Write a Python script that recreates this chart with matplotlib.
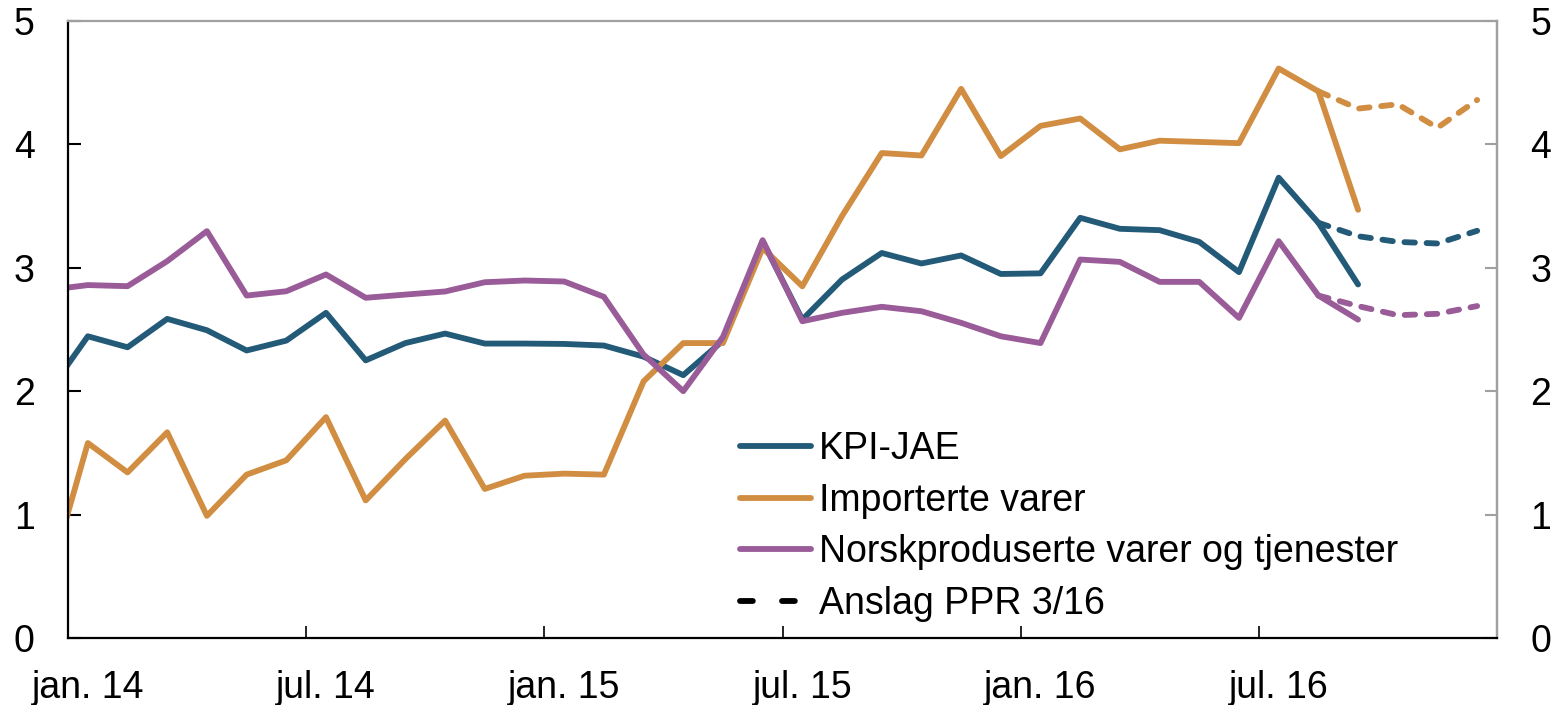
import numpy as np
import pandas as pd
import matplotlib
matplotlib.use("Agg")
import matplotlib.pyplot as plt
from matplotlib.lines import Line2D

plt.rcParams['font.family'] = ['Liberation Sans', 'DejaVu Sans']

# ---- data -------------------------------------------------------------
months = pd.period_range('2013-12', '2016-09', freq='M')
kpi_jae = [1.99, 2.445, 2.356, 2.586, 2.494, 2.33, 2.41, 2.635, 2.25, 2.39,
           2.467, 2.386, 2.386, 2.383, 2.37, 2.28, 2.13, 2.41, 3.215, 2.58,
           2.905, 3.12, 3.035, 3.10, 2.95, 2.955, 3.405, 3.316, 3.305, 3.21,
           2.965, 3.73, 3.365, 2.865]
importerte = [0.45, 1.58, 1.342, 1.667, 0.99, 1.324, 1.44, 1.79, 1.115, 1.45,
              1.762, 1.208, 1.315, 1.332, 1.324, 2.08, 2.39, 2.39, 3.16, 2.85,
              3.42, 3.93, 3.91, 4.45, 3.905, 4.15, 4.21, 3.96, 4.03, 4.02,
              4.01, 4.615, 4.43, 3.47]
norsk = [2.82, 2.86, 2.851, 3.054, 3.297, 2.775, 2.81, 2.946, 2.757, 2.783,
         2.808, 2.883, 2.897, 2.889, 2.765, 2.297, 2.0, 2.44, 3.224, 2.567,
         2.635, 2.684, 2.648, 2.554, 2.445, 2.39, 3.067, 3.048, 2.886, 2.886,
         2.594, 3.216, 2.775, 2.58]

fc_months = pd.period_range('2016-08', '2016-12', freq='M')
kpi_jae_fc = [3.365, 3.256, 3.21, 3.197, 3.30]
importerte_fc = [4.43, 4.29, 4.325, 4.135, 4.36]
norsk_fc = [2.775, 2.69, 2.616, 2.627, 2.69]

tick_labels = ['jan. 14', 'jul. 14', 'jan. 15', 'jul. 15', 'jan. 16', 'jul. 16']
legend_labels = ['KPI-JAE', 'Importerte varer',
                 'Norskproduserte varer og tjenester', 'Anslag PPR 3/16']

# ---- styling ----------------------------------------------------------
c_blue = '#225a78'
c_orange = '#d18e42'
c_purple = '#995c98'
gray = '#a0a0a0'
lw = 4.2
fs = 27

start = pd.Period('2014-01', freq='M')
def xpos(per):
    return np.array([(p - start).n for p in per]) + 0.5

x = xpos(months)
xf = xpos(fc_months)

W, H = 1559, 705
fig = plt.figure(figsize=(W / 100, H / 100), dpi=100)
rect = [68 / W, 1 - 638 / H, (1497 - 68) / W, (638 - 21) / H]
ax = fig.add_axes(rect)
ax2 = ax.twinx()
ax.set_zorder(2)
ax2.set_zorder(1)
ax.patch.set_visible(False)

for y, c in [(kpi_jae, c_blue), (importerte, c_orange), (norsk, c_purple)]:
    ax.plot(x, y, color=c, lw=lw, solid_capstyle='round', solid_joinstyle='round')
for y, c in [(kpi_jae_fc, c_blue), (importerte_fc, c_orange), (norsk_fc, c_purple)]:
    ax.plot(xf, y, color=c, lw=lw, dashes=(1.8, 2.0), dash_capstyle='round')

ax.set_xlim(0, 36)
ax.set_ylim(0, 5)
ax.set_yticks(range(6))

ax.set_xticks(np.arange(0, 37, 6))
ax.set_xticklabels([])
ax.set_xticks(np.arange(0, 31, 6) + 0.5, minor=True)
ax.set_xticklabels(tick_labels, minor=True)
ax.tick_params(axis='x', which='major', direction='in', length=9, width=1.2, color='black')
ax.tick_params(axis='x', which='minor', length=0, pad=23, labelsize=fs)
ax.tick_params(axis='y', direction='in', length=9, width=1.5, pad=24, labelsize=fs)

for s in ['left', 'bottom']:
    ax.spines[s].set_linewidth(1.6)
    ax.spines[s].set_color('black')
for s in ['top', 'right']:
    ax.spines[s].set_linewidth(1.6)
    ax.spines[s].set_color(gray)

ax2.set_ylim(0, 5)
ax2.set_yticks(range(6))
ax2.tick_params(axis='y', direction='in', length=9, width=1.5, color=gray,
                labelcolor='black', pad=24, labelsize=fs)
for s in ['left', 'bottom', 'top']:
    ax2.spines[s].set_visible(False)
ax2.spines['right'].set_color(gray)
ax2.spines['right'].set_linewidth(1.6)

handles = [Line2D([], [], color=c_blue, lw=lw, solid_capstyle='round'),
           Line2D([], [], color=c_orange, lw=lw, solid_capstyle='round'),
           Line2D([], [], color=c_purple, lw=lw, solid_capstyle='round'),
           Line2D([], [], color='black', lw=lw, dashes=(2.2, 5.0), dash_capstyle='round')]
leg = ax.legend(handles, legend_labels, loc='upper left',
                bbox_to_anchor=(740 / W, 1 - 431 / H), bbox_transform=fig.transFigure,
                frameon=False, fontsize=fs, borderpad=0, borderaxespad=0,
                handlelength=1.9, handletextpad=0.2, labelspacing=0.42)

fig.savefig('out.png', dpi=100)
